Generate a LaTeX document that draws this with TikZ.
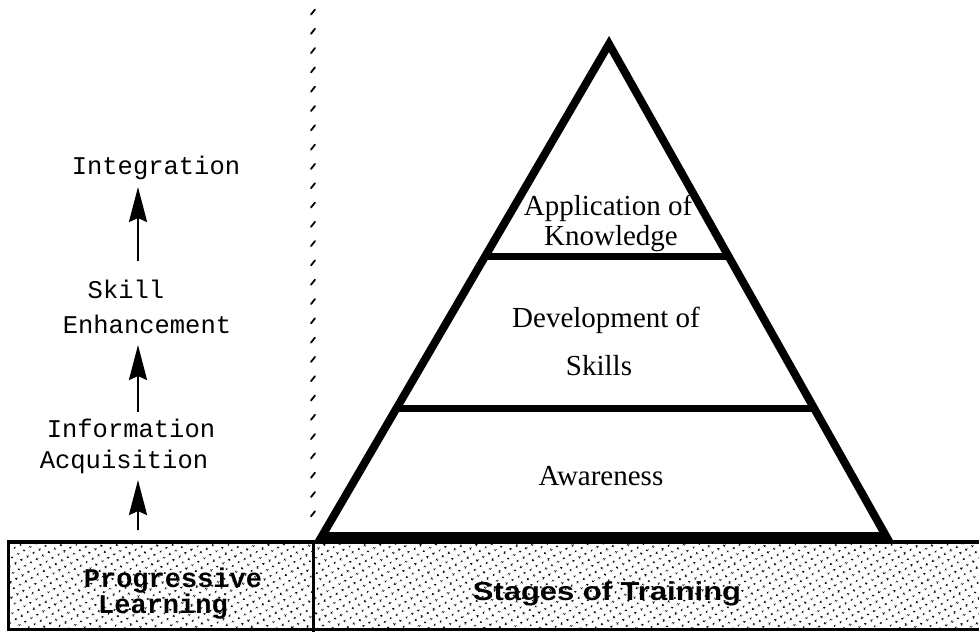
\documentclass[tikz,border=0pt]{standalone}
\usepackage{fontspec}
\usepackage{graphicx}
\setmainfont{Liberation Serif}
\newfontfamily\monofam{Liberation Mono}
\newfontfamily\sansfam{Liberation Sans}
\usetikzlibrary{arrows.meta,patterns.meta,calc}

\begin{document}
\begin{tikzpicture}[x=1pt,y=-1pt,
  stagetext/.style={font=\fontsize{29}{32}\selectfont, inner sep=0pt, anchor=base},
  phasetext/.style={font=\monofam\fontsize{25.5}{28}\selectfont, inner sep=0pt, anchor=base},
  bandmono/.style={font=\monofam\bfseries\fontsize{27}{30}\selectfont, inner sep=0pt, anchor=base},
  bandsans/.style={font=\sansfam\bfseries\fontsize{26}{30}\selectfont, inner sep=0pt, anchor=base},
  upflow/.style={line width=2.5pt, -{Stealth[length=35pt,width=18pt,inset=4pt]}},
  wall/.style={line width=8pt, line join=miter},
  tier/.style={line width=7pt},
  band/.style={line width=3.5pt, pattern={Dots[radius=1.3pt,distance=6.5pt,angle=30]}},
  tick/.style={line width=1.8pt, line cap=round},
]
\useasboundingbox (0,0) rectangle (979,632);
\clip (0,0) rectangle (979,632);

% dashed divider made of short slanted ticks
\foreach \ty in {12,31.3,...,525} {
  \draw[tick] (311,\ty+2.5) -- (315,\ty-2.5);
}

% base band
\draw[band] (8.5,542) rectangle (995,629.5);
\draw[line width=3pt] (313,542) -- (313,632);
\node[bandmono] (prog) at (173,587) {Progressive};
\node[bandmono] (learn) at (163,613) {Learning};
\node[bandsans] (stages) at (607,600) {\scalebox{1.19}[1]{Stages of Training}};

% pyramid
\coordinate (apex) at (609,44);
\coordinate (bl) at (322,536);
\coordinate (br) at (886,536);
\draw[wall] (bl) -- (apex) -- (br) -- cycle;
\coordinate (t1l) at ($(bl)!0.569!(apex)$);
\coordinate (t1r) at ($(br)!0.569!(apex)$);
\coordinate (t2l) at ($(bl)!0.260!(apex)$);
\coordinate (t2r) at ($(br)!0.260!(apex)$);
\draw[tier] (t1l) -- (t1r);
\draw[tier] (t2l) -- (t2r);

\node[stagetext] (app) at (608,215) {Application of};
\node[stagetext] (know) at (611,245) {Knowledge};
\node[stagetext] (dev) at (606,327) {Development of};
\node[stagetext] (skills) at (599,375) {Skills};
\node[stagetext] (aware) at (601,485) {Awareness};

% progression labels
\node[phasetext] (integ) at (156,174) {Integration};
\node[phasetext] (skill) at (126,298) {Skill};
\node[phasetext] (enh) at (147,333) {Enhancement};
\node[phasetext] (info) at (131,437) {Information};
\node[phasetext] (acq) at (124,468) {Acquisition};

\coordinate (a1s) at (138,261);
\coordinate (a1e) at (138,187);
\coordinate (a2s) at (138,412);
\coordinate (a2e) at (138,345);
\coordinate (a3s) at (138,530);
\coordinate (a3e) at (138,480);
\draw[upflow] (a1s) -- (a1e);
\draw[upflow] (a2s) -- (a2e);
\draw[upflow] (a3s) -- (a3e);
\end{tikzpicture}
\end{document}
